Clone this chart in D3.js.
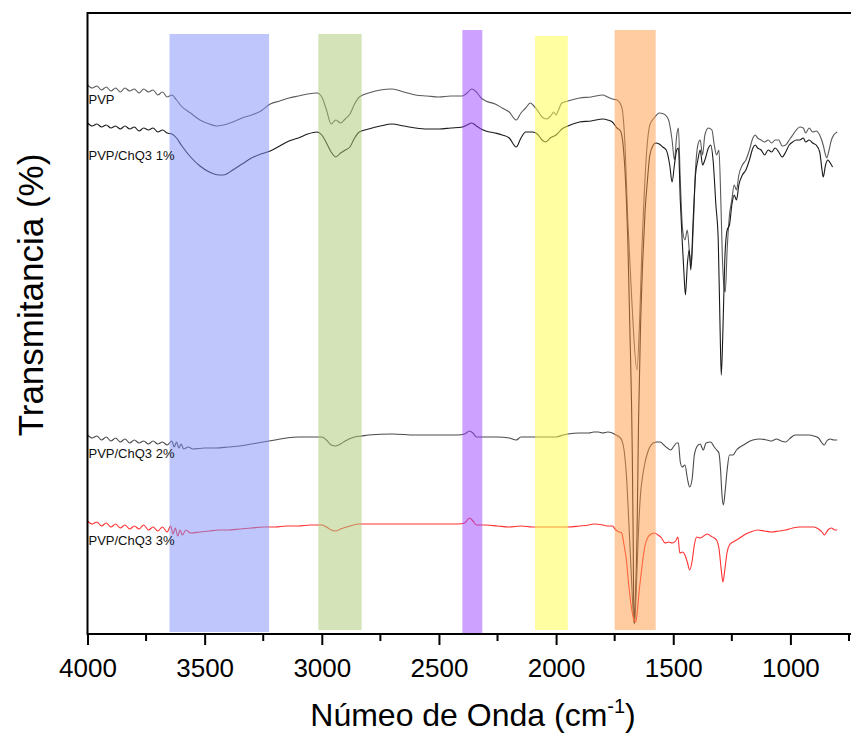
<!DOCTYPE html>
<html>
<head>
  <meta charset="utf-8">
  <title>FTIR PVP / ChQ3</title>
  <script src="https://d3js.org/d3.v7.min.js"></script>
  <style>
    body { margin: 0; background: #fff; }
    svg { display: block; font-family: "Liberation Sans", Arial, sans-serif; }
    .spec { fill: none; stroke-width: 1.1px; }
    .lbl { font-size: 13px; fill: #111; }
  </style>
</head>
<body>
  <script>
    // spectra: [wavenumber (cm-1), transmittance (a.u., offset)]
    const pvp = [[4000,109.8],[3980,109.2],[3960,109.6],[3940,108.8],[3920,109.4],[3900,108.6],[3880,109.2],[3860,108.4],[3840,109.2],[3820,108.6],[3800,109.0],[3780,108.2],[3760,109.0],[3740,108.4],[3720,108.8],[3700,107.8],[3680,108.4],[3660,107.4],[3640,107.8],[3620,106.8],[3600,105.6],[3560,104.2],[3520,102.8],[3480,102.0],[3450,101.6],[3420,101.8],[3380,102.4],[3340,103.2],[3300,103.8],[3260,104.6],[3220,106.0],[3180,106.6],[3140,107.2],[3100,107.6],[3060,108.0],[3020,108.2],[3000,107.4],[2980,104.8],[2960,102.0],[2940,102.8],[2920,102.2],[2900,103.0],[2880,104.0],[2860,106.0],[2840,107.4],[2800,108.2],[2750,108.8],[2700,109.0],[2650,108.4],[2600,107.8],[2550,107.6],[2500,107.4],[2450,107.6],[2400,107.6],[2380,108.2],[2360,109.0],[2340,108.4],[2320,107.2],[2300,106.6],[2260,106.0],[2230,105.2],[2200,104.4],[2170,102.8],[2150,104.2],[2130,105.2],[2110,106.2],[2095,105.6],[2080,104.8],[2060,103.4],[2040,103.0],[2020,103.8],[2010,104.4],[2000,103.8],[1990,104.8],[1975,106.2],[1950,106.6],[1900,107.2],[1850,107.4],[1800,107.8],[1780,107.4],[1760,107.0],[1740,106.8],[1720,105.4],[1707,98.8],[1694,82.8],[1677,66.8],[1655,52.8],[1642,64.8],[1634,76.8],[1625,86.8],[1613,96.8],[1600,101.8],[1578,103.4],[1560,104.2],[1540,104.0],[1520,102.8],[1505,98.8],[1495,94.8],[1485,99.8],[1478,101.2],[1470,90.8],[1460,80.8],[1450,78.8],[1440,80.8],[1430,75.8],[1423,73.8],[1415,80.8],[1405,92.8],[1395,97.8],[1385,98.8],[1375,95.8],[1365,99.8],[1350,101.2],[1335,100.8],[1325,97.8],[1315,95.8],[1305,96.8],[1297,86.8],[1290,74.8],[1284,69.8],[1278,68.4],[1270,76.8],[1260,83.8],[1250,86.8],[1240,89.8],[1230,88.8],[1220,91.8],[1205,93.8],[1190,94.8],[1175,96.8],[1160,99.2],[1150,99.8],[1140,99.2],[1125,98.8],[1110,98.4],[1095,98.8],[1080,98.2],[1065,98.8],[1050,98.8],[1035,97.6],[1020,97.8],[1005,98.8],[990,99.8],[975,100.8],[960,101.4],[945,101.2],[935,100.2],[920,101.2],[905,100.4],[890,100.6],[875,99.8],[860,97.8],[850,95.8],[845,95.2],[835,96.8],[825,98.8],[815,99.8],[800,100.4]];

    const chq1 = [[4000,102.2],[3980,101.6],[3960,102.0],[3940,101.4],[3920,101.8],[3900,101.2],[3880,101.6],[3860,101.0],[3840,101.6],[3820,101.0],[3800,101.4],[3780,100.6],[3760,101.2],[3740,100.8],[3720,101.2],[3700,100.4],[3680,100.8],[3660,100.2],[3640,100.0],[3620,99.2],[3600,97.8],[3560,95.4],[3520,93.6],[3480,92.4],[3440,91.8],[3420,91.8],[3380,92.8],[3340,94.0],[3300,95.2],[3260,96.0],[3220,96.6],[3180,97.6],[3140,98.6],[3100,99.2],[3060,100.0],[3020,100.4],[3000,99.8],[2980,98.2],[2960,96.4],[2940,95.4],[2920,96.2],[2900,96.8],[2880,97.4],[2860,99.2],[2840,100.4],[2800,101.0],[2750,101.6],[2700,102.0],[2650,101.6],[2600,101.2],[2550,101.0],[2500,101.0],[2450,101.2],[2400,101.4],[2380,101.8],[2360,102.2],[2340,101.6],[2320,101.0],[2300,100.6],[2260,100.2],[2230,99.8],[2200,99.2],[2170,97.4],[2150,99.2],[2130,100.4],[2100,100.4],[2080,100.0],[2060,98.8],[2045,98.4],[2025,99.2],[2000,99.8],[1975,101.0],[1950,101.6],[1900,102.4],[1850,102.6],[1800,103.0],[1780,102.8],[1760,102.4],[1740,101.2],[1725,100.6],[1712,96.8],[1700,86.8],[1694,78.8],[1685,60.8],[1675,36.8],[1671,18.8],[1668,2.2],[1662,6.8],[1655,18.8],[1648,42.8],[1640,60.8],[1630,74.8],[1620,84.8],[1610,90.8],[1600,95.8],[1585,97.8],[1575,98.2],[1560,98.0],[1545,97.4],[1530,96.8],[1515,93.8],[1505,90.4],[1495,93.8],[1485,96.8],[1478,97.2],[1470,86.8],[1462,78.8],[1455,72.8],[1448,67.8],[1440,73.8],[1432,76.8],[1425,72.8],[1415,82.8],[1405,91.8],[1395,94.8],[1385,96.8],[1375,93.8],[1365,94.8],[1350,97.2],[1340,97.8],[1330,94.8],[1318,85.8],[1308,78.8],[1300,60.8],[1295,51.8],[1288,60.8],[1280,74.8],[1270,80.8],[1260,81.8],[1250,85.8],[1240,87.8],[1230,86.8],[1220,89.8],[1205,91.8],[1190,92.8],[1175,94.8],[1160,97.2],[1150,97.8],[1140,97.2],[1125,96.8],[1110,95.8],[1095,96.8],[1080,96.4],[1065,97.2],[1050,96.4],[1035,95.4],[1020,96.4],[1005,97.8],[990,98.4],[975,98.8],[960,98.8],[945,99.2],[935,98.4],[920,98.8],[905,98.2],[890,97.8],[875,96.4],[865,92.8],[860,91.4],[850,93.8],[840,94.8],[830,94.2],[820,93.4]];

    const chq2 = [[4000,39.8],[3980,39.2],[3960,39.6],[3940,38.8],[3920,39.4],[3900,38.6],[3880,39.2],[3860,38.4],[3840,39.0],[3820,38.2],[3800,38.8],[3780,38.2],[3760,38.6],[3740,38.0],[3720,38.6],[3700,38.0],[3680,38.4],[3660,37.8],[3640,38.6],[3630,37.4],[3620,38.4],[3610,37.2],[3600,38.0],[3590,37.0],[3570,37.4],[3550,37.0],[3500,37.2],[3450,37.2],[3400,37.4],[3350,37.6],[3300,38.0],[3250,38.4],[3200,38.8],[3150,39.2],[3100,39.4],[3050,39.4],[3000,39.4],[2980,38.8],[2960,37.8],[2940,37.6],[2920,38.0],[2900,38.6],[2860,39.4],[2830,39.6],[2800,39.8],[2700,40.0],[2600,39.8],[2500,39.8],[2420,39.8],[2390,40.0],[2370,40.6],[2355,40.2],[2340,39.4],[2300,39.4],[2250,39.4],[2200,39.2],[2170,38.8],[2150,39.4],[2100,39.4],[2050,39.4],[2000,39.4],[1970,39.8],[1950,40.0],[1900,40.2],[1860,40.2],[1840,40.4],[1820,40.4],[1800,40.2],[1780,40.4],[1760,40.2],[1745,39.8],[1730,39.4],[1720,38.8],[1710,36.8],[1700,31.8],[1690,22.8],[1680,12.8],[1670,3.8],[1665,2.0],[1658,8.8],[1650,18.8],[1640,27.8],[1630,31.8],[1620,34.4],[1610,36.2],[1600,37.4],[1585,38.2],[1570,38.4],[1555,38.4],[1540,37.8],[1525,37.2],[1510,36.8],[1500,37.4],[1485,38.2],[1478,38.2],[1470,34.4],[1462,33.4],[1450,33.8],[1440,31.2],[1430,29.4],[1420,30.8],[1410,35.8],[1400,37.4],[1385,38.0],[1372,36.8],[1360,38.2],[1340,38.4],[1325,37.4],[1315,36.8],[1305,36.2],[1298,32.8],[1292,27.8],[1286,25.8],[1278,28.8],[1270,32.8],[1260,35.8],[1245,35.8],[1230,36.8],[1215,37.4],[1200,37.8],[1180,38.4],[1160,38.8],[1130,39.0],[1100,38.8],[1080,38.6],[1060,39.0],[1040,38.6],[1020,38.4],[1000,39.2],[980,39.8],[950,39.8],[920,39.8],[900,39.6],[880,39.2],[865,38.2],[855,37.8],[845,38.6],[830,39.0],[815,38.8],[800,38.8]];

    const chq3 = [[4000,22.6],[3980,22.0],[3960,22.4],[3940,21.6],[3920,22.2],[3900,21.4],[3880,22.0],[3860,21.2],[3840,21.8],[3820,21.0],[3800,21.6],[3780,21.0],[3760,21.8],[3740,20.8],[3720,21.4],[3700,20.6],[3680,21.4],[3660,20.4],[3645,21.6],[3635,20.0],[3625,21.2],[3615,19.6],[3605,20.8],[3595,19.8],[3580,20.8],[3560,20.2],[3520,20.4],[3480,20.6],[3440,20.8],[3400,20.8],[3350,21.0],[3300,21.2],[3250,21.4],[3200,21.4],[3150,21.6],[3100,21.6],[3050,21.8],[3000,21.8],[2980,21.4],[2960,20.8],[2940,20.6],[2920,21.0],[2880,21.6],[2840,22.0],[2800,22.0],[2700,22.0],[2600,22.0],[2500,22.0],[2420,22.0],[2390,22.2],[2370,23.2],[2355,22.6],[2340,21.8],[2300,21.8],[2250,21.6],[2200,21.4],[2150,21.6],[2100,21.4],[2050,21.4],[2000,21.4],[1950,21.4],[1900,21.6],[1860,21.8],[1840,22.0],[1800,21.8],[1780,21.6],[1760,21.6],[1745,20.8],[1730,20.4],[1720,20.2],[1710,17.8],[1700,14.8],[1690,9.8],[1680,5.8],[1670,3.2],[1660,2.4],[1652,5.2],[1645,8.8],[1640,10.8],[1630,14.8],[1620,17.8],[1610,19.2],[1600,19.8],[1580,20.2],[1565,19.8],[1550,19.2],[1535,18.2],[1520,18.4],[1505,18.2],[1490,18.6],[1480,19.4],[1472,16.2],[1460,16.4],[1450,15.8],[1440,14.4],[1430,12.8],[1420,14.4],[1410,17.8],[1400,19.4],[1385,19.2],[1370,19.6],[1355,20.0],[1340,19.6],[1325,19.2],[1315,18.8],[1305,17.2],[1295,12.8],[1288,10.4],[1280,12.8],[1270,16.4],[1260,17.8],[1245,18.4],[1230,18.8],[1210,19.4],[1190,20.0],[1170,20.4],[1140,20.8],[1110,20.6],[1080,20.4],[1050,20.6],[1020,20.8],[990,21.2],[960,21.4],[930,21.4],[900,21.4],[880,21.0],[865,20.4],[855,19.8],[840,20.8],[825,21.2],[810,20.8],[800,20.8]];

    const seriesNames = ["PVP", "PVP/ChQ3 1%", "PVP/ChQ3 2%", "PVP/ChQ3 3%"];
    const seriesColors = ["#5a5a5a", "#1a1a1a", "#4a4a4a", "#ff3030"];
    const labelT = [106, 94.8, 35.2, 17.8];   // label baseline level

    // highlighted bands
    const bandFrom = [3650, 3015, 2400, 2090, 1750];
    const bandTo = [3225, 2830, 2315, 1950, 1575];
    const bandTop = [120, 120, 120.8, 119.6, 120.8];
    const bandBottom = [0.4, 0.8, 0.2, 0.8, 0.8];
    const bandColors = ["#7d8df9", "#abc773", "#9943ff", "#ffff43", "#ff9943"];

    const xMajor = [4000, 3500, 3000, 2500, 2000, 1500, 1000];
    const xMinor = [3750, 3250, 2750, 2250, 1750, 1250, 750];

    const width = 851, height = 735;
    const mLeft = 87.5, mTop = 13, mBottom = 634;

    const x = d3.scaleLinear().domain([4000, 1000]).range([mLeft, 790.4]);
    const y = d3.scaleLinear().domain([0, 124.2]).range([mBottom, mTop]);

    const svg = d3.select("body").append("svg")
      .attr("width", width)
      .attr("height", height);

    const line = d3.line()
      .x(d => x(d[0]))
      .y(d => y(d[1]))
      .curve(d3.curveMonotoneX);

    const series = [pvp, chq1, chq2, chq3];
    svg.selectAll("path.spec")
      .data(series)
      .join("path")
      .attr("class", "spec")
      .attr("stroke", (d, i) => seriesColors[i])
      .attr("d", line);

    // bands laid over the spectra
    svg.selectAll("rect.band")
      .data(bandFrom)
      .join("rect")
      .attr("class", "band")
      .attr("x", (d, i) => x(d))
      .attr("width", (d, i) => x(bandTo[i]) - x(d))
      .attr("y", (d, i) => y(bandTop[i]))
      .attr("height", (d, i) => y(bandBottom[i]) - y(bandTop[i]))
      .attr("fill", (d, i) => bandColors[i])
      .attr("fill-opacity", 0.5);

    svg.selectAll("text.lbl")
      .data(seriesNames)
      .join("text")
      .attr("class", "lbl")
      .attr("x", mLeft + 1)
      .attr("y", (d, i) => y(labelT[i]))
      .text(d => d);

    // axes
    const xAxis = d3.axisBottom(x)
      .tickValues(xMajor)
      .tickSize(11)
      .tickSizeOuter(0)
      .tickFormat(d3.format("d"));
    const gx = svg.append("g")
      .attr("transform", `translate(0,${mBottom})`)
      .call(xAxis);
    gx.select(".domain").attr("d", `M${mLeft},0H${width}`).attr("stroke-width", 2);
    gx.selectAll(".tick line").attr("stroke-width", 2);
    gx.selectAll(".tick text")
      .attr("font-size", 26)
      .attr("font-family", "Liberation Sans, Arial, sans-serif")
      .attr("dy", 0)
      .attr("y", 43);

    gx.selectAll(".minor")
      .data(xMinor)
      .join("line")
      .attr("class", "minor")
      .attr("x1", d => x(d)).attr("x2", d => x(d))
      .attr("y1", 0).attr("y2", 7)
      .attr("stroke", "#000")
      .attr("stroke-width", 2);

    // left axis and top frame
    svg.append("line")
      .attr("x1", mLeft).attr("x2", mLeft)
      .attr("y1", mTop - 1).attr("y2", mBottom + 1)
      .attr("stroke", "#000").attr("stroke-width", 2);
    svg.append("line")
      .attr("x1", mLeft).attr("x2", width)
      .attr("y1", mTop).attr("y2", mTop)
      .attr("stroke", "#000").attr("stroke-width", 2);

    // axis titles
    const xt = svg.append("text")
      .attr("x", 473)
      .attr("y", 726)
      .attr("text-anchor", "middle")
      .attr("font-size", 32);
    xt.append("tspan").text("Númeo de Onda (cm");
    xt.append("tspan").attr("font-size", 20).attr("dy", -13).text("-1");
    xt.append("tspan").attr("dy", 13).text(")");

    svg.append("text")
      .attr("transform", "translate(43,295) rotate(-90)")
      .attr("text-anchor", "middle")
      .attr("font-size", 35)
      .text("Transmitancia (%)");
  </script>
</body>
</html>
